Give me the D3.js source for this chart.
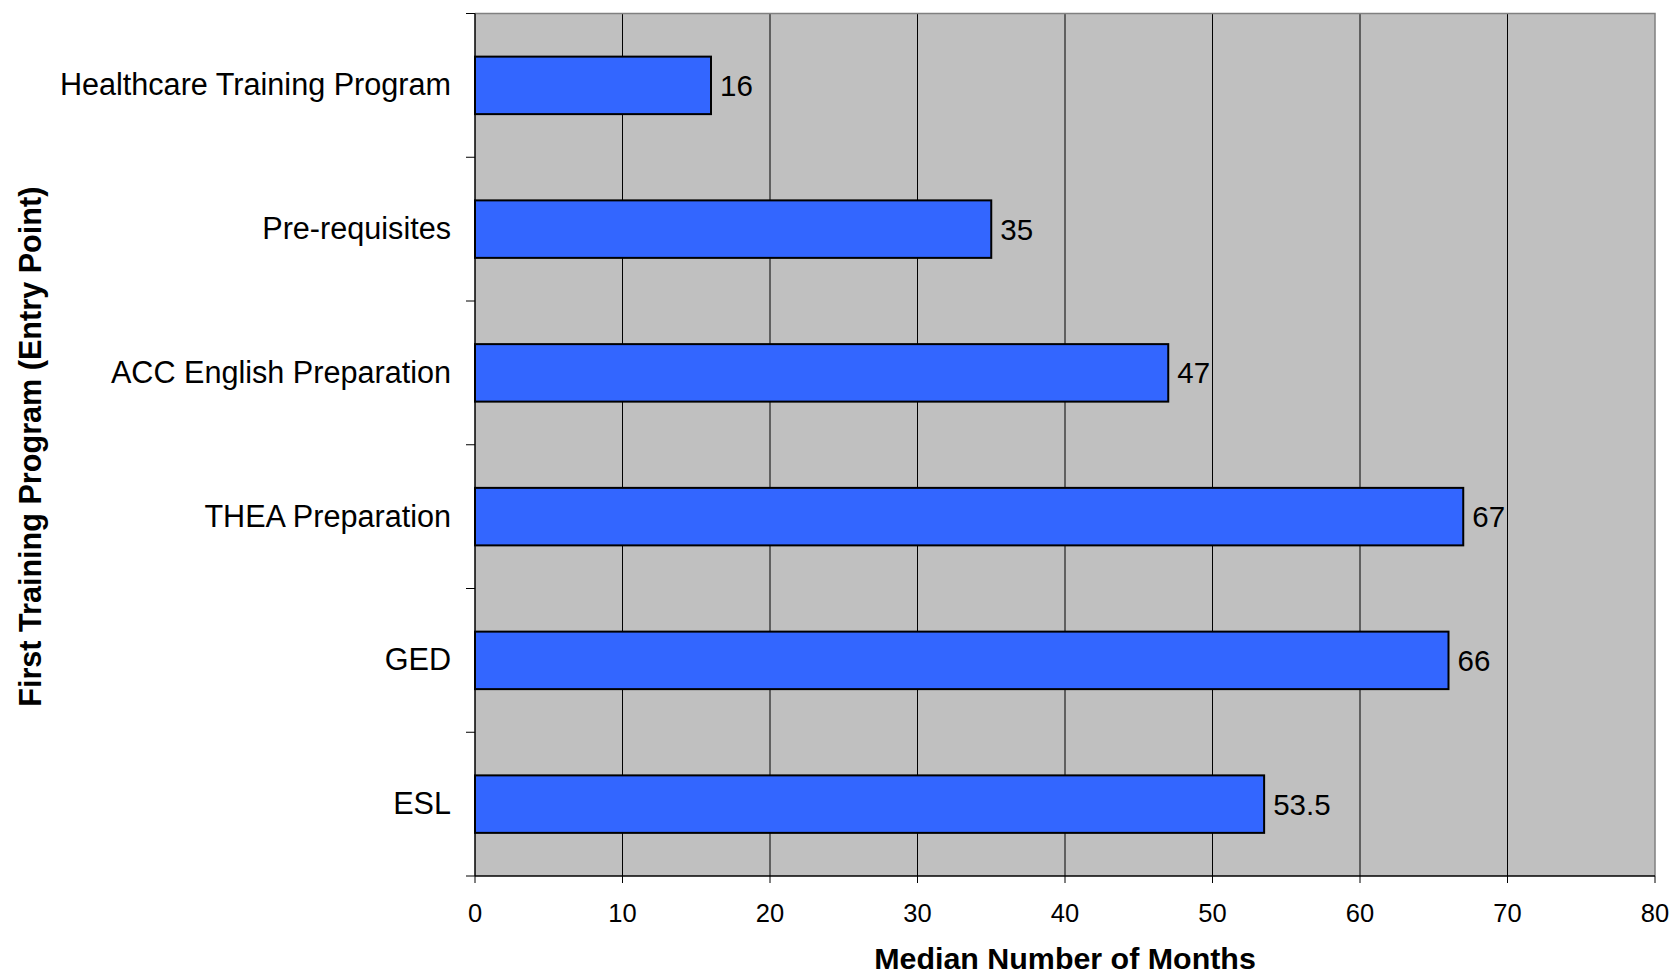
<!DOCTYPE html>
<html>
<head>
<meta charset="utf-8">
<script src="https://cdn.jsdelivr.net/npm/d3@7"></script>
<style>
  html, body { margin: 0; padding: 0; background: #ffffff; }
  svg { display: block; font-family: "Liberation Sans", Arial, sans-serif; }
</style>
</head>
<body>
<svg id="chart" width="1673" height="974"></svg>
<script>
// Entry points, top to bottom
const categories = [
  "Healthcare Training Program",
  "Pre-requisites",
  "ACC English Preparation",
  "THEA Preparation",
  "GED",
  "ESL"
];
// Median number of months for each entry point
const medianMonths = [16, 35, 47, 67, 66, 53.5];
const valueLabels = ["16", "35", "47", "67", "66", "53.5"];
// Horizontal axis ticks
const xTicks = [0, 10, 20, 30, 40, 50, 60, 70, 80];

const svg = d3.select("#chart");
const plotLeft = 475, plotRight = 1655, plotTop = 13.5, plotBottom = 876;

const x = d3.scaleLinear().domain([0, 80]).range([plotLeft, plotRight]);
const y = d3.scaleBand().domain(categories).range([plotTop, plotBottom])
  .paddingInner(0.6).paddingOuter(0.3);

// plot background
svg.append("rect")
  .attr("x", plotLeft).attr("y", plotTop)
  .attr("width", plotRight - plotLeft).attr("height", plotBottom - plotTop)
  .attr("fill", "#c0c0c0");

// vertical gridlines
svg.append("g").selectAll("line")
  .data(xTicks.filter(t => t > 0 && t < 80))
  .join("line")
  .attr("x1", d => x(d)).attr("x2", d => x(d))
  .attr("y1", plotTop).attr("y2", plotBottom)
  .attr("stroke", "#000").attr("stroke-width", 1);

// top and right frame
svg.append("path")
  .attr("d", `M${plotLeft},${plotTop}H${plotRight}V${plotBottom}`)
  .attr("fill", "none").attr("stroke", "#808080").attr("stroke-width", 1.5);

// bars
svg.append("g").selectAll("rect")
  .data(categories)
  .join("rect")
  .attr("x", x(0))
  .attr("y", d => y(d))
  .attr("width", (d, i) => x(medianMonths[i]) - x(0))
  .attr("height", y.bandwidth())
  .attr("fill", "#3366ff")
  .attr("stroke", "#000").attr("stroke-width", 2);

// value labels
svg.append("g").selectAll("text")
  .data(categories)
  .join("text")
  .attr("x", (d, i) => x(medianMonths[i]) + 9)
  .attr("y", d => y(d) + y.bandwidth() / 2 + 10.5)
  .attr("font-size", 29.5)
  .attr("fill", "#000")
  .text((d, i) => valueLabels[i]);

// bottom axis
const xAxis = svg.append("g");
xAxis.append("line")
  .attr("x1", plotLeft).attr("x2", plotRight).attr("y1", plotBottom).attr("y2", plotBottom)
  .attr("stroke", "#000").attr("stroke-width", 1.5);
xAxis.selectAll("line.tick")
  .data(xTicks).join("line").attr("class", "tick")
  .attr("x1", d => x(d)).attr("x2", d => x(d))
  .attr("y1", plotBottom).attr("y2", plotBottom + 7)
  .attr("stroke", "#000").attr("stroke-width", 1);
xAxis.selectAll("text")
  .data(xTicks).join("text")
  .attr("x", d => x(d)).attr("y", 922)
  .attr("text-anchor", "middle")
  .attr("font-size", 25.5)
  .attr("fill", "#000")
  .text(d => d);

// left axis
const yAxis = svg.append("g");
yAxis.append("line")
  .attr("x1", plotLeft).attr("x2", plotLeft).attr("y1", plotTop).attr("y2", plotBottom)
  .attr("stroke", "#000").attr("stroke-width", 1.5);
const boundaries = d3.range(categories.length + 1).map(i => plotTop + i * y.step());
yAxis.selectAll("line.tick")
  .data(boundaries).join("line").attr("class", "tick")
  .attr("x1", plotLeft - 9).attr("x2", plotLeft)
  .attr("y1", d => d).attr("y2", d => d)
  .attr("stroke", "#000").attr("stroke-width", 1);
yAxis.selectAll("text")
  .data(categories).join("text")
  .attr("x", plotLeft - 24)
  .attr("y", d => y(d) + y.bandwidth() / 2 + 10)
  .attr("text-anchor", "end")
  .attr("font-size", 30.6)
  .attr("fill", "#000")
  .text(d => d);

// axis titles
svg.append("text")
  .attr("x", (plotLeft + plotRight) / 2).attr("y", 969)
  .attr("text-anchor", "middle")
  .attr("font-size", 30.4).attr("font-weight", "bold")
  .attr("fill", "#000")
  .text("Median Number of Months");

svg.append("text")
  .attr("transform", `translate(41,${(plotTop + plotBottom) / 2 + 2}) rotate(-90)`)
  .attr("text-anchor", "middle")
  .attr("font-size", 30.6).attr("font-weight", "bold")
  .attr("fill", "#000")
  .text("First Training Program (Entry Point)");
</script>
</body>
</html>
